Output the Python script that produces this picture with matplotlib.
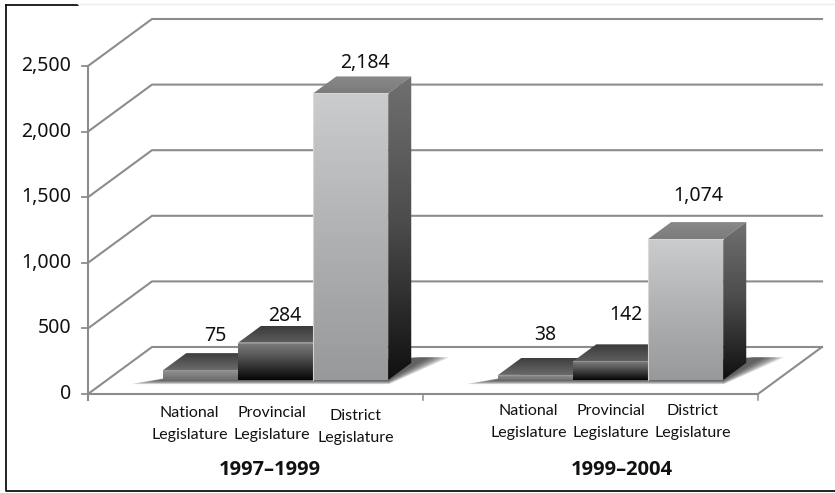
import numpy as np
import matplotlib
matplotlib.use("Agg")
import matplotlib.pyplot as plt
from matplotlib.patches import Polygon
from matplotlib.colors import LinearSegmentedColormap

# ==========================================
# Data
# ==========================================

periods = ["1997\u20131999", "1999\u20132004"]
levels = ["National\nLegislature", "Provincial\nLegislature", "District\nLegislature"]
values_1997 = [75, 284, 2184]
values_1999 = [38, 142, 1074]
y_ticks = [0, 500, 1000, 1500, 2000, 2500]
y_labels = ["0", "500", "1,000", "1,500", "2,000", "2,500"]

# ==========================================
# Figure: one axes over the whole picture
# ==========================================

W, H = 835, 493
PX_X = 335.0      # pixels per category
PX_Y = 328 / 2500 # pixels per value unit

fig = plt.figure(figsize=(W / 100, H / 100), dpi=100)
ax = fig.add_axes([0, 0, 1, 1])
ax.set_xlim(-88 / PX_X, (W - 88) / PX_X)
ax.set_ylim(-(H - 394) / PX_Y, 394 / PX_Y)
ax.axis("off")

DX = 64 / PX_X
DY = 47 / PX_Y
GRID = "#8c8c8c"
NUM_FONT = ["Noto Sans", "DejaVu Sans"]
CAT_FONT = ["Lato", "Noto Sans", "DejaVu Sans"]
TITLE_FONT = ["Open Sans", "DejaVu Sans"]


def proj(x, y, d):
    # oblique projection, d = 0 front plane, d = 1 back wall
    return x + DX * d, y + DY * d


def px(x, y):
    # picture pixels to data, for the frame and text placement
    return (x - 88) / PX_X, (394 - y) / PX_Y


def gradient_poly(pts, colors, z, horizontal=False):
    pts = np.array(pts)
    cmap = LinearSegmentedColormap.from_list("g", colors)
    g = np.linspace(0, 1, 128)
    g = g.reshape(1, -1) if horizontal else g.reshape(-1, 1)
    ext = (pts[:, 0].min(), pts[:, 0].max(), pts[:, 1].min(), pts[:, 1].max())
    im = ax.imshow(g, extent=ext, origin="upper", cmap=cmap, aspect="auto",
                   zorder=z, interpolation="bilinear")
    clip = Polygon(pts, closed=True, transform=ax.transData, fc="none", ec="none")
    ax.add_patch(clip)
    im.set_clip_path(clip)


# ==========================================
# Gridlines, floor, axis
# ==========================================

for t, lab in zip(y_ticks, y_labels):
    x0, y0 = proj(0, t, 0)
    x1, y1 = proj(0, t, 1)
    x2, y2 = proj(2, t, 1)
    ax.plot([x0, x1, x2], [y0, y1, y2], color=GRID, lw=1.5, zorder=1)
    ax.plot([-6 / PX_X, 0], [t, t], color=GRID, lw=1.3, zorder=1)
    ax.text(-17 / PX_X, t, lab, ha="right", va="center",
            fontsize=14, family=NUM_FONT, color="#111111")

ax.plot([0, 0], [-6 / PX_Y, 2500], color=GRID, lw=1.5, zorder=1)
fx = [proj(0, 0, 0), proj(2, 0, 0), proj(2, 0, 1)]
ax.plot([p[0] for p in fx], [p[1] for p in fx], color=GRID, lw=1.5, zorder=2)
for i in [0, 1, 2]:
    ax.plot([i, i], [-6 / PX_Y, 0], color=GRID, lw=1.1, zorder=1)

# ==========================================
# Bars
# ==========================================

BAR_W = 75 / PX_X
BAR_SHIFT = 1 / PX_X
D0, D1 = 0.30, 0.66
front_cols = [["#929292", "#6e6e6e"],
              ["#7d7d7d", "#5a5a5a", "#303030", "#060606"],
              ["#cbccce", "#b0b1b3", "#98999b"]]
top_cols = [["#3e3e3e", "#6a6a6a"], ["#3a3a3a", "#5e5e5e"], ["#8a8a8a", "#7a7a7a"]]

# label centres as pixel offsets from the top back edge of each bar
label_off = [[(-8, 17), (-14, 10), (-9, 13)],
             [(-13, 23), (-8, 29), (-10, 26)]]
# category label offsets from the group centre and heights, in pixels
cat_dx = [[-66, 16, 100], [-62, 20, 102]]
cat_y = [[424, 424, 427], [422, 422, 422]]
title_x = [270, 622]

for g, vals in enumerate([values_1997, values_1999]):
    centre = g + 0.5

    # soft shadow on the floor below the three bars
    left_all = centre - 1.5 * BAR_W + BAR_SHIFT
    right_all = centre + 1.5 * BAR_W + BAR_SHIFT
    for k in range(8):
        grow = (8 - k) / 8
        ax.add_patch(Polygon([
            proj(left_all - 0.08 * grow, 0, D0 - 0.09 * grow),
            proj(right_all + 0.02 * grow, 0, D0 - 0.09 * grow),
            proj(right_all + 0.02 + 0.07 * grow, 0, D1 + 0.12),
            proj(right_all, 0, D1 + 0.12),
            proj(left_all + 0.07, 0, D1 - 0.2),
        ], fc="#333333", ec="none", alpha=0.16, zorder=3))

    for i, v in enumerate(vals):
        left = centre + (i - 1.5) * BAR_W + BAR_SHIFT
        right = left + BAR_W

        top_pts = [proj(left, v, D0), proj(right, v, D0), proj(right, v, D1), proj(left, v, D1)]
        side_pts = [proj(right, 0, D0), proj(right, 0, D1), proj(right, v, D1), proj(right, v, D0)]
        front_pts = [proj(left, 0, D0), proj(right, 0, D0), proj(right, v, D0), proj(left, v, D0)]

        gradient_poly(top_pts, top_cols[i], 4 + i)
        if i == 2:
            gradient_poly(side_pts, ["#707070", "#4a4a4a", "#101010"], 4 + i)
        gradient_poly(front_pts, front_cols[i], 4.5 + i)

        # pale highlight along the top and left edges of the front face
        ax.plot([front_pts[3][0], front_pts[2][0]], [front_pts[3][1], front_pts[2][1]],
                color="#d8d8d8" if i == 2 else "#9a9a9a", lw=0.8, alpha=0.8, zorder=4.6 + i)
        if i == 2:
            ax.plot([front_pts[0][0], front_pts[3][0]], [front_pts[0][1], front_pts[3][1]],
                    color="#e0e0e0", lw=0.8, alpha=0.8, zorder=4.6 + i)

        tx, ty = proj((left + right) / 2, v, D1)
        ox, oy = label_off[g][i]
        ax.text(tx + ox / PX_X, ty + oy / PX_Y, f"{v:,}", ha="center", va="center",
                fontsize=14, family=NUM_FONT, color="#111111", zorder=9)

        # category label under the floor
        ax.text(centre + cat_dx[g][i] / PX_X, px(0, cat_y[g][i])[1], levels[i],
                ha="center", va="center", fontsize=11.5, family=CAT_FONT,
                color="#111111", linespacing=1.65)

    ax.text(px(title_x[g], 0)[0], px(0, 470)[1], periods[g], ha="center", va="center",
            fontsize=14.5, fontweight="bold", family=TITLE_FONT, color="#111111")

# ==========================================
# Frame
# ==========================================

fr = [px(6, 5), px(6, 491), px(835, 491)]
ax.plot([p[0] for p in fr], [p[1] for p in fr], color="#111111", lw=1.3, zorder=10)
ax.plot(*zip(px(6, 5), px(78, 5)), color="#111111", lw=1.3, zorder=10)
ax.plot(*zip(px(78, 4), px(835, 4)), color="#efefef", lw=1.0, zorder=10)

ax.set_xlim(-88 / PX_X, (W - 88) / PX_X)
ax.set_ylim(-(H - 394) / PX_Y, 394 / PX_Y)

fig.savefig("out.png", dpi=100)
